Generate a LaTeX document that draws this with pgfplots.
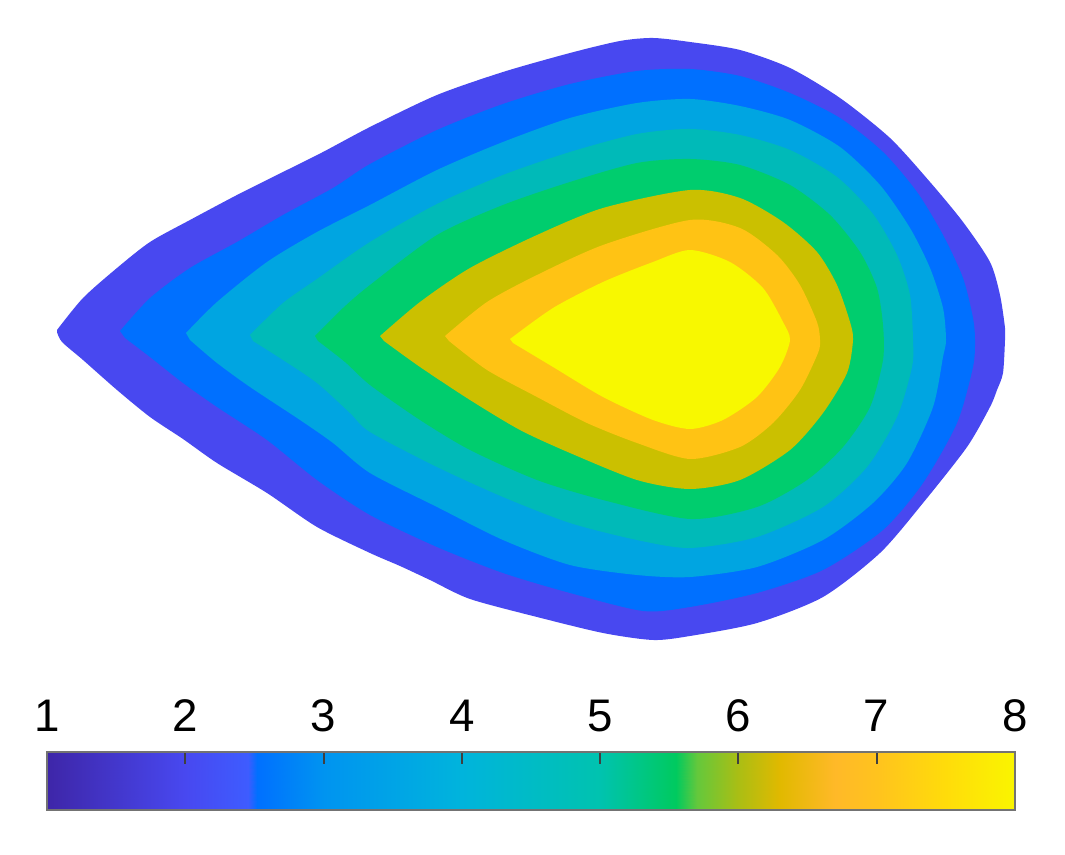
\documentclass[border=0pt]{standalone}
\usepackage{pgfplots}
\pgfplotsset{compat=1.18}
\usepackage{fontspec}
\setmainfont{Liberation Sans}
\definecolor{c1}{RGB}{72,72,240}
\definecolor{c2}{RGB}{0,112,255}
\definecolor{c3}{RGB}{0,165,225}
\definecolor{c4}{RGB}{0,186,184}
\definecolor{c5}{RGB}{0,205,110}
\definecolor{c6}{RGB}{203,192,0}
\definecolor{c7}{RGB}{255,195,20}
\definecolor{c8}{RGB}{248,248,0}
\begin{document}
\begin{tikzpicture}
\useasboundingbox (0,0) rectangle (10.65,8.55);
\begin{axis}[
  at={(0,0)}, anchor=south west,
  width=10.65cm, height=8.55cm, scale only axis,
  xmin=0, xmax=1065, ymin=0, ymax=855, y dir=reverse,
  hide axis, clip=false]
\addplot[fill=c1, draw=none, smooth, tension=0.45] coordinates {
(57,330) (83,298) (117,268) (150,242) (190,220) (237,195) (283,172) (323,152) (370,127) (437,95) (503,72) (570,53) (620,41) (653,38) (690,42) (740,50) (790,68) (840,98) (890,138) (930,182) (963,222) (990,262) (1000,295) (1005,328) (1005,340) (1003,373) (997,390) (990,407) (967,447) (923,503) (880,553) (823,597) (757,623) (690,636) (653,640) (603,633) (537,617) (470,599) (430,580) (400,566) (370,553) (317,527) (267,493) (217,463) (183,439) (150,417) (117,390) (83,360) (62,342) (57,332)};
\addplot[fill=c2, draw=none, smooth, tension=0.45] coordinates {
(120,331) (150,298) (190,268) (237,242) (283,215) (333,188) (370,164) (437,130) (503,104) (570,84) (637,71) (690,69) (740,76) (790,93) (840,118) (883,152) (917,192) (943,235) (963,278) (973,318) (975,340) (973,367) (957,423) (923,483) (883,530) (823,570) (757,593) (690,607) (643,611) (570,593) (503,573) (437,547) (370,515) (317,480) (267,440) (217,407) (183,383) (150,357) (125,338)};
\addplot[fill=c3, draw=none, smooth, tension=0.45] coordinates {
(186,333) (217,302) (267,262) (317,232) (370,205) (437,170) (503,142) (570,118) (637,103) (690,99) (740,106) (790,120) (840,147) (880,185) (910,228) (930,268) (943,308) (946,340) (943,357) (933,407) (907,463) (873,503) (823,540) (757,567) (690,577) (637,575) (570,565) (503,540) (437,507) (370,473) (333,443) (300,420) (250,387) (217,363) (190,340)};
\addplot[fill=c4, draw=none, smooth, tension=0.45] coordinates {
(250,335) (283,303) (317,279) (370,242) (437,204) (503,175) (570,152) (637,134) (690,129) (740,135) (790,150) (837,177) (873,214) (897,255) (910,295) (913,340) (912,367) (897,417) (867,467) (823,507) (757,537) (690,548) (637,540) (570,523) (503,497) (437,467) (370,432) (350,413) (317,383) (283,360) (253,341)};
\addplot[fill=c5, draw=none, smooth, tension=0.45] coordinates {
(315,336) (343,308) (370,285) (437,235) (503,205) (570,182) (637,163) (690,159) (740,165) (790,185) (830,215) (860,252) (877,288) (883,325) (883,360) (870,407) (843,447) (807,480) (757,507) (690,519) (603,500) (537,480) (470,450) (420,420) (370,385) (345,362) (318,341)};
\addplot[fill=c6, draw=none, smooth, tension=0.45] coordinates {
(380,336) (420,302) (470,268) (537,235) (603,208) (690,190) (740,198) (783,222) (817,252) (837,285) (850,322) (853,340) (847,373) (823,413) (790,450) (740,480) (690,489) (637,480) (570,453) (520,430) (470,400) (420,367) (384,341)};
\addplot[fill=c7, draw=none, smooth, tension=0.45] coordinates {
(445,336) (487,302) (537,275) (603,245) (690,220) (740,228) (777,255) (800,285) (817,322) (820,340) (818,353) (800,390) (773,423) (740,447) (690,459) (637,443) (587,423) (537,397) (487,370) (449,341)};
\addplot[fill=c8, draw=none, smooth, tension=0.45] coordinates {
(510,339) (553,308) (603,282) (653,262) (690,250) (730,262) (763,288) (783,322) (790,340) (780,367) (757,397) (723,420) (690,429) (653,420) (603,397) (553,367) (513,343)};
\end{axis}
\begin{axis}[
  at={(0.47cm,0.45cm)}, anchor=south west,
  width=9.68cm, height=0.58cm, scale only axis,
  xmin=1, xmax=8, ymin=0, ymax=1,
  colormap={cbar}{rgb255(1cm)=(62,38,168); rgb255(2cm)=(72,72,240); rgb255(2.45cm)=(62,92,255); rgb255(2.52cm)=(0,112,255); rgb255(3cm)=(0,148,240); rgb255(4cm)=(0,180,220); rgb255(5cm)=(0,195,175); rgb255(5.55cm)=(0,202,95); rgb255(5.7cm)=(100,200,60); rgb255(6cm)=(170,190,20); rgb255(6.3cm)=(225,185,0); rgb255(6.7cm)=(255,185,40); rgb255(7cm)=(255,195,30); rgb255(7.5cm)=(255,220,10); rgb255(8cm)=(250,245,0)},
  point meta min=1, point meta max=8,
  xtick={1,2,3,4,5,6,7,8}, ytick=\empty,
  xtick pos=upper, xticklabel pos=upper, xtick align=inside,
  major tick length=3.5pt,
  every tick/.style={draw=black!75, line width=0.6pt},
  axis line style={draw=black!55, line width=0.8pt},
  /pgf/number format/assume math mode=true,
  xticklabel style={font=\fontsize{13}{15}\selectfont, anchor=south, inner sep=0pt, yshift=5.5pt},
  axis on top]
\addplot[surf, shader=interp, mesh/rows=2, point meta=x] coordinates {
(1,0) (2,0) (2.45,0) (2.52,0) (3,0) (4,0) (5,0) (5.55,0) (5.7,0) (6,0) (6.3,0) (6.7,0) (7,0) (7.5,0) (8,0)

(1,1) (2,1) (2.45,1) (2.52,1) (3,1) (4,1) (5,1) (5.55,1) (5.7,1) (6,1) (6.3,1) (6.7,1) (7,1) (7.5,1) (8,1)
};
\end{axis}
\end{tikzpicture}
\end{document}
